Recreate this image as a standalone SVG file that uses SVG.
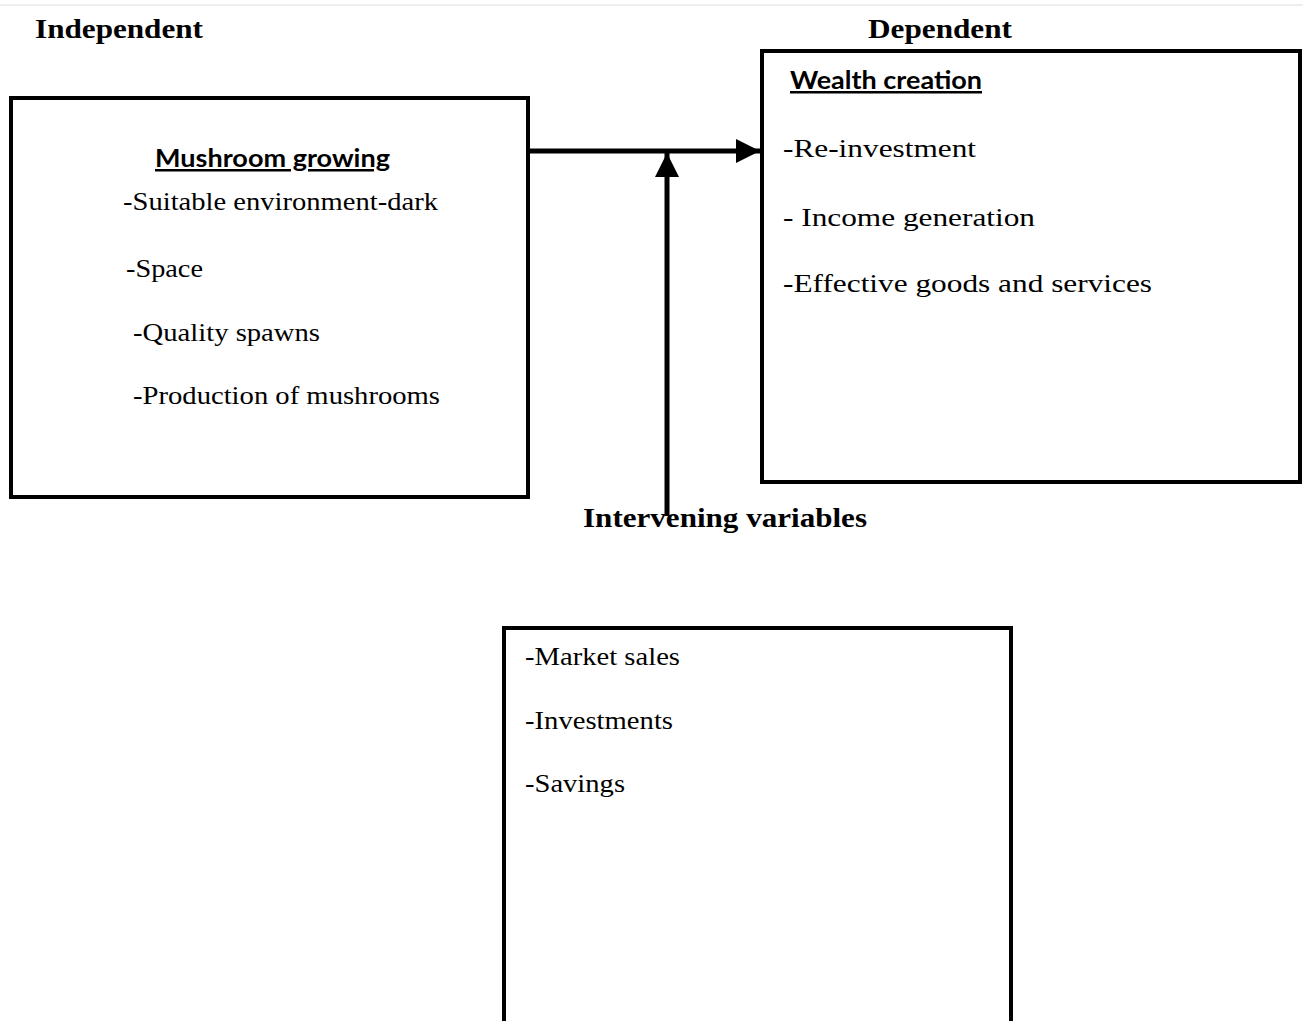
<svg xmlns="http://www.w3.org/2000/svg" width="1303" height="1021" viewBox="0 0 1303 1021">
<style>
.box{fill:none;stroke:#000;stroke-width:4}
.hd{font-family:"Liberation Serif",serif;font-weight:bold;font-size:27px;fill:#000}
.t{font-family:"Liberation Serif",serif;font-size:26px;fill:#000}
.ul{font-family:Lato,"Liberation Sans",sans-serif;font-weight:bold;font-size:25px;fill:#000;text-decoration:underline}
.conn{stroke:#000;stroke-width:5;fill:none}
</style>
<defs>
<marker id="ah" markerUnits="userSpaceOnUse" markerWidth="26" markerHeight="24" refX="24" refY="12" orient="auto">
<path d="M0,0 L24,12 L0,24 Z" fill="#000"/>
</marker>
</defs>
<rect width="1303" height="1021" fill="#fff"/>
<line x1="0" y1="5" x2="1303" y2="5" stroke="#ddd" stroke-width="1"/>
<text class="hd" x="35" y="38" textLength="168" lengthAdjust="spacingAndGlyphs">Independent</text>
<text class="hd" x="868" y="38" textLength="144" lengthAdjust="spacingAndGlyphs">Dependent</text>
<g id="independent">
<rect class="box" x="11" y="98" width="517" height="399"/>
<text class="ul" x="155" y="167" textLength="235" lengthAdjust="spacingAndGlyphs">Mushroom growing</text>
<text class="t" x="123" y="210" textLength="315" lengthAdjust="spacingAndGlyphs">-Suitable environment-dark</text>
<text class="t" x="126" y="277" textLength="77" lengthAdjust="spacingAndGlyphs">-Space</text>
<text class="t" x="133" y="341" textLength="187" lengthAdjust="spacingAndGlyphs">-Quality spawns</text>
<text class="t" x="133" y="404" textLength="307" lengthAdjust="spacingAndGlyphs">-Production of mushrooms</text>
</g>
<g id="dependent">
<rect class="box" x="762" y="51" width="538" height="431"/>
<text class="ul" x="790" y="89" textLength="192" lengthAdjust="spacingAndGlyphs">Wealth creation</text>
<text class="t" x="783" y="157" textLength="193" lengthAdjust="spacingAndGlyphs">-Re-investment</text>
<text class="t" x="783" y="226" textLength="252" lengthAdjust="spacingAndGlyphs">- Income generation</text>
<text class="t" x="783" y="292" textLength="369" lengthAdjust="spacingAndGlyphs">-Effective goods and services</text>
</g>
<g id="intervening">
<text class="hd" x="583" y="527" textLength="284" lengthAdjust="spacingAndGlyphs">Intervening variables</text>
<rect class="box" x="504" y="628" width="507" height="400"/>
<text class="t" x="525" y="665" textLength="155" lengthAdjust="spacingAndGlyphs">-Market sales</text>
<text class="t" x="525" y="729" textLength="148" lengthAdjust="spacingAndGlyphs">-Investments</text>
<text class="t" x="525" y="792" textLength="100" lengthAdjust="spacingAndGlyphs">-Savings</text>
</g>
<g id="connectors">
<line class="conn" x1="530" y1="151" x2="760" y2="151" marker-end="url(#ah)"/>
<line class="conn" x1="667" y1="516" x2="667" y2="153" marker-end="url(#ah)"/>
</g>
</svg>
